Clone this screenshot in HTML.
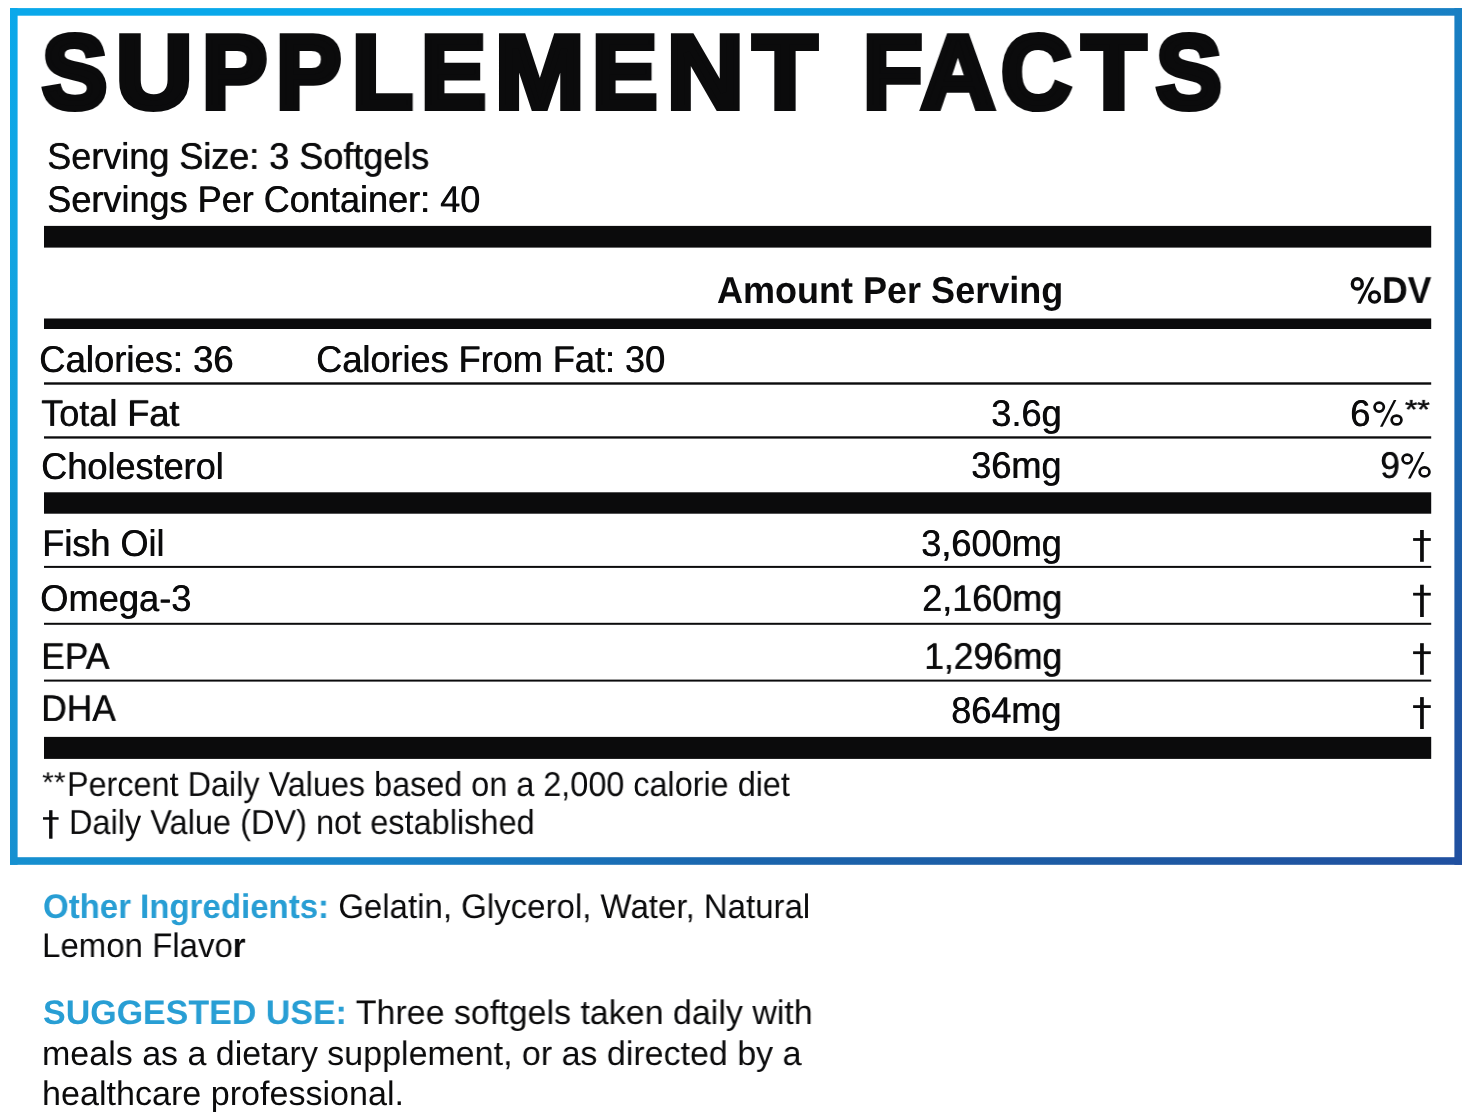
<!DOCTYPE html>
<html><head><meta charset="utf-8"><title>Supplement Facts</title>
<style>
html,body{margin:0;padding:0;background:#fff;}
body{width:1476px;height:1116px;position:relative;overflow:hidden;font-family:"Liberation Sans",sans-serif;color:#0b0b0c;}
.t{position:absolute;line-height:1;white-space:nowrap;text-rendering:geometricPrecision;transform-origin:0 0;will-change:transform;}
#rules,#frame{position:absolute;left:0;top:0;}
b{font-weight:bold;}
</style></head><body>
<svg id="frame" width="1476" height="1116" viewBox="0 0 1476 1116"><defs><linearGradient id="gt" x1="0" y1="0" x2="1" y2="0"><stop offset="0" stop-color="#0aa8ea"/><stop offset="0.25" stop-color="#08a8ea"/><stop offset="0.5" stop-color="#0c9bdf"/><stop offset="0.75" stop-color="#118dd3"/><stop offset="1" stop-color="#187fc3"/></linearGradient><linearGradient id="gb" x1="0" y1="0" x2="1" y2="0"><stop offset="0" stop-color="#1690d0"/><stop offset="0.25" stop-color="#1882c8"/><stop offset="0.5" stop-color="#1a65ad"/><stop offset="0.75" stop-color="#1d5aa3"/><stop offset="1" stop-color="#2050a0"/></linearGradient><linearGradient id="gl" x1="0" y1="0" x2="0" y2="1"><stop offset="0" stop-color="#0aa8ea"/><stop offset="0.25" stop-color="#12a5e2"/><stop offset="0.5" stop-color="#139fdc"/><stop offset="0.75" stop-color="#1697d6"/><stop offset="1" stop-color="#1690d0"/></linearGradient><linearGradient id="gr" x1="0" y1="0" x2="0" y2="1"><stop offset="0" stop-color="#187fc3"/><stop offset="0.25" stop-color="#1a74ba"/><stop offset="0.5" stop-color="#1b67af"/><stop offset="0.75" stop-color="#1f57a3"/><stop offset="1" stop-color="#2050a0"/></linearGradient></defs><rect x="10" y="8.1" width="1452" height="7.6" fill="url(#gt)"/><rect x="10" y="857.20" width="1452" height="7.6" fill="url(#gb)"/><rect x="10" y="8.1" width="7.6" height="856.70" fill="url(#gl)"/><rect x="1454.40" y="8.1" width="7.6" height="856.70" fill="url(#gr)"/></svg>
<div class="t" style="left:46.75px;top:137.57px;font-size:36px;transform:scale(0.9993,1.0343);text-shadow:0.6px 0 0 #0b0b0c;">Serving Size: 3 Softgels</div>
<div class="t" style="left:46.75px;top:181.17px;font-size:36px;transform:scale(1.0018,1.0343);text-shadow:0.6px 0 0 #0b0b0c;">Servings Per Container: 40</div>
<div class="t" style="left:716.59px;top:272.07px;font-size:36px;font-weight:bold;transform:scale(1.0005,1.0410);">Amount Per Serving</div>
<div class="t" style="left:1382.08px;top:271.67px;font-size:36px;font-weight:bold;transform:scale(0.9880,1.0410);">DV</div>
<div class="t" style="left:39.49px;top:340.77px;font-size:36px;transform:scale(1.0117,1.0343);text-shadow:0.6px 0 0 #0b0b0c;">Calories: 36</div>
<div class="t" style="left:316.41px;top:340.77px;font-size:36px;transform:scale(1.0022,1.0343);text-shadow:0.6px 0 0 #0b0b0c;">Calories From Fat: 30</div>
<div class="t" style="left:40.94px;top:394.87px;font-size:36px;transform:scale(0.9999,1.0343);text-shadow:0.6px 0 0 #0b0b0c;">Total Fat</div>
<div class="t" style="left:991.15px;top:395.17px;font-size:36px;transform:scale(1.0053,1.0343);text-shadow:0.6px 0 0 #0b0b0c;">3.6g</div>
<div class="t" style="left:1350.39px;top:395.27px;font-size:36px;transform:scale(1.0103,1.0343);text-shadow:0.6px 0 0 #0b0b0c;">6</div>
<div class="t" style="left:1405.36px;top:396.36px;font-size:36px;transform:scale(0.8828,0.7495);-webkit-text-stroke:0.7px #0b0b0c;">**</div>
<div class="t" style="left:41.11px;top:447.67px;font-size:36px;transform:scale(1.0020,1.0343);text-shadow:0.6px 0 0 #0b0b0c;">Cholesterol</div>
<div class="t" style="left:971.35px;top:447.47px;font-size:36px;transform:scale(1.0018,1.0343);text-shadow:0.6px 0 0 #0b0b0c;">36mg</div>
<div class="t" style="left:1379.55px;top:447.47px;font-size:36px;transform:scale(0.9781,1.0343);text-shadow:0.6px 0 0 #0b0b0c;">9</div>
<div class="t" style="left:41.62px;top:524.97px;font-size:36px;transform:scale(1.0020,1.0343);text-shadow:0.6px 0 0 #0b0b0c;">Fish Oil</div>
<div class="t" style="left:921.05px;top:525.27px;font-size:36px;transform:scale(1.0033,1.0343);text-shadow:0.6px 0 0 #0b0b0c;">3,600mg</div>
<div class="t" style="left:40.30px;top:580.47px;font-size:36px;transform:scale(1.0075,1.0343);text-shadow:0.6px 0 0 #0b0b0c;">Omega-3</div>
<div class="t" style="left:921.74px;top:580.27px;font-size:36px;transform:scale(0.9984,1.0343);text-shadow:0.6px 0 0 #0b0b0c;">2,160mg</div>
<div class="t" style="left:41.48px;top:638.07px;font-size:36px;transform:scale(0.9823,1.0343);text-shadow:0.6px 0 0 #0b0b0c;">EPA</div>
<div class="t" style="left:923.72px;top:637.77px;font-size:36px;transform:scale(0.9841,1.0343);text-shadow:0.6px 0 0 #0b0b0c;">1,296mg</div>
<div class="t" style="left:41.08px;top:689.97px;font-size:36px;transform:scale(0.9809,1.0343);text-shadow:0.6px 0 0 #0b0b0c;">DHA</div>
<div class="t" style="left:951.43px;top:691.87px;font-size:36px;transform:scale(1.0008,1.0343);text-shadow:0.6px 0 0 #0b0b0c;">864mg</div>
<div class="t" style="left:41.59px;top:767.69px;font-size:33px;transform:scale(0.9251,0.8441);">**</div>
<div class="t" style="left:67.14px;top:766.55px;font-size:33px;transform:scale(0.9810,1.0446);">Percent Daily Values based on a 2,000 calorie diet</div>
<div class="t" style="left:68.53px;top:804.75px;font-size:33px;transform:scale(0.9853,1.0446);">Daily Value (DV) not established</div>
<div class="t" style="left:42.90px;top:890.24px;font-size:34px;transform:scale(0.9707,0.9986);"><b style="color:#289ed4">Other Ingredients:</b> Gelatin, Glycerol, Water, Natural</div>
<div class="t" style="left:42.21px;top:928.84px;font-size:34px;transform:scale(0.9706,0.9986);">Lemon Flavo<b>r</b></div>
<div class="t" style="left:43.37px;top:995.94px;font-size:34px;transform:scale(0.9991,0.9986);"><b style="color:#289ed4">SUGGESTED USE:</b> Three softgels taken daily with</div>
<div class="t" style="left:42.33px;top:1036.74px;font-size:34px;transform:scale(0.9997,0.9986);">meals as a dietary supplement, or as directed by a</div>
<div class="t" style="left:42.49px;top:1076.64px;font-size:34px;transform:scale(1.0028,0.9986);">healthcare professional.</div>
<div class="t" style="left:41.71px;top:21.06px;font-size:104px;font-weight:bold;transform:scale(0.9405,1.0031);-webkit-text-stroke:6.2px #0b0b0c;">S</div>
<div class="t" style="left:116.14px;top:21.06px;font-size:104px;font-weight:bold;transform:scale(1.0174,1.0031);-webkit-text-stroke:6.2px #0b0b0c;">U</div>
<div class="t" style="left:201.88px;top:21.06px;font-size:104px;font-weight:bold;transform:scale(0.9390,1.0031);-webkit-text-stroke:6.2px #0b0b0c;">P</div>
<div class="t" style="left:276.37px;top:21.06px;font-size:104px;font-weight:bold;transform:scale(0.9421,1.0031);-webkit-text-stroke:6.2px #0b0b0c;">P</div>
<div class="t" style="left:351.51px;top:21.06px;font-size:104px;font-weight:bold;transform:scale(0.9572,1.0031);-webkit-text-stroke:6.2px #0b0b0c;">L</div>
<div class="t" style="left:420.69px;top:21.06px;font-size:104px;font-weight:bold;transform:scale(0.9360,1.0031);-webkit-text-stroke:6.2px #0b0b0c;">E</div>
<div class="t" style="left:494.53px;top:21.06px;font-size:104px;font-weight:bold;transform:scale(1.0309,1.0031);-webkit-text-stroke:6.2px #0b0b0c;">M</div>
<div class="t" style="left:591.57px;top:21.06px;font-size:104px;font-weight:bold;transform:scale(0.9421,1.0031);-webkit-text-stroke:6.2px #0b0b0c;">E</div>
<div class="t" style="left:666.57px;top:21.06px;font-size:104px;font-weight:bold;transform:scale(1.0204,1.0031);-webkit-text-stroke:6.2px #0b0b0c;">N</div>
<div class="t" style="left:752.89px;top:21.06px;font-size:104px;font-weight:bold;transform:scale(1.0067,1.0031);-webkit-text-stroke:6.2px #0b0b0c;">T</div>
<div class="t" style="left:862.69px;top:21.06px;font-size:104px;font-weight:bold;transform:scale(0.9353,1.0031);-webkit-text-stroke:6.2px #0b0b0c;">F</div>
<div class="t" style="left:921.29px;top:21.06px;font-size:104px;font-weight:bold;transform:scale(0.9837,1.0031);-webkit-text-stroke:6.2px #0b0b0c;">A</div>
<div class="t" style="left:1001.23px;top:21.06px;font-size:104px;font-weight:bold;transform:scale(0.9380,1.0031);-webkit-text-stroke:6.2px #0b0b0c;">C</div>
<div class="t" style="left:1081.98px;top:21.06px;font-size:104px;font-weight:bold;transform:scale(1.0052,1.0031);-webkit-text-stroke:6.2px #0b0b0c;">T</div>
<div class="t" style="left:1156.31px;top:21.06px;font-size:104px;font-weight:bold;transform:scale(0.9463,1.0031);-webkit-text-stroke:6.2px #0b0b0c;">S</div>
<svg id="rules" width="1476" height="1116" viewBox="0 0 1476 1116" fill="#0b0b0c"><rect x="44" y="225.9" width="1387.20" height="21.70"/><rect x="44" y="318.5" width="1387.20" height="10.50"/><rect x="44" y="382.3" width="1387.20" height="2.40"/><rect x="44" y="436.3" width="1387.20" height="2.30"/><rect x="44" y="492.3" width="1387.20" height="21.40"/><rect x="44" y="565.9" width="1387.20" height="2.00"/><rect x="44" y="622.8" width="1387.20" height="2.00"/><rect x="44" y="679.6" width="1387.20" height="2.00"/><rect x="44" y="736.9" width="1387.20" height="22.00"/><rect x="1420.1" y="530.0" width="3.70" height="31.80"/><rect x="1413.1" y="538.1" width="17.70" height="2.80"/><rect x="1420.1" y="584.7" width="3.70" height="32.30"/><rect x="1413.1" y="592.8000000000001" width="17.70" height="2.80"/><rect x="1420.1" y="643.2" width="3.70" height="31.60"/><rect x="1413.1" y="651.3000000000001" width="17.70" height="2.80"/><rect x="1420.1" y="697.1" width="3.70" height="31.90"/><rect x="1413.1" y="705.2" width="17.70" height="2.80"/><ellipse cx="1407.20" cy="459.00" rx="4.65" ry="4.45" fill="none" stroke="#0b0b0c" stroke-width="2.7"/><ellipse cx="1424.55" cy="471.90" rx="4.9" ry="4.45" fill="none" stroke="#0b0b0c" stroke-width="2.7"/><polygon points="1421.80,452.00 1424.40,452.00 1410.60,478.60 1408.00,478.60"/><ellipse cx="1379.20" cy="407.10" rx="4.65" ry="4.45" fill="none" stroke="#0b0b0c" stroke-width="2.7"/><ellipse cx="1396.55" cy="420.00" rx="4.9" ry="4.45" fill="none" stroke="#0b0b0c" stroke-width="2.7"/><polygon points="1393.80,400.10 1396.40,400.10 1382.60,426.70 1380.00,426.70"/><ellipse cx="1357.30" cy="283.90" rx="4.95" ry="5.15" fill="none" stroke="#0b0b0c" stroke-width="3.4"/><ellipse cx="1374.50" cy="297.00" rx="4.95" ry="5.15" fill="none" stroke="#0b0b0c" stroke-width="3.4"/><polygon points="1371.30,277.20 1374.40,277.20 1360.80,303.70 1357.40,303.70"/><rect x="49.1" y="810.2" width="3.40" height="28.50"/><rect x="43.0" y="817.2" width="15.60" height="2.50"/></svg>
</body></html>
